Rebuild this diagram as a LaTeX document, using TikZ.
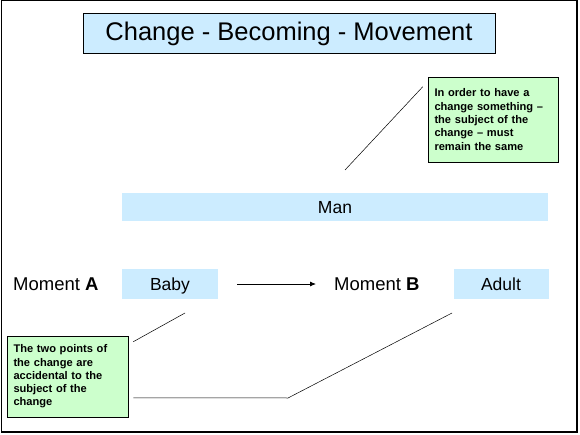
\documentclass[tikz,border=0pt]{standalone}
\usepackage{fontspec}
\setmainfont{Liberation Sans}
\usepackage{xcolor}
\usetikzlibrary{arrows.meta,positioning,calc}
\definecolor{sky}{HTML}{CCECFF}
\definecolor{mint}{HTML}{CCFFCC}

\begin{document}
\begin{tikzpicture}[x=1pt,y=-1pt,
  bar/.style={fill=sky,inner sep=0pt,text height=13pt,text depth=0.4pt,
              font=\fontsize{17.5}{20}\selectfont},
  label/.style={inner sep=0pt,anchor=west,font=\fontsize{18.5}{21}\selectfont},
  note/.style={draw=black,line width=0.5pt,fill=mint,inner xsep=6.5pt,align=left,
              font=\fontsize{11.1}{13.3}\selectfont\bfseries},
  pointer/.style={draw=black,line width=0.5pt},
  arrow/.style={-{Latex[length=6pt,width=5pt]},line width=0.8pt,draw=black}]
  \useasboundingbox (0,0) rectangle (580,435);
  % frame
  \draw[line width=1pt] (1,1) rectangle (577,432);
  \draw[line width=2pt] (577,0.5) -- (577,432) -- (0.5,432);
  \node[draw=black,line width=1pt,fill=sky,minimum width=412pt,minimum height=40pt,
        inner sep=0pt,font=\fontsize{25.5}{30}\selectfont] (title) at (289,34)
        {Change - Becoming - Movement};
  \node[bar,minimum width=426pt,minimum height=28pt] (man) at (335,207) {Man};
  \node[label] (momentA) at (13,284) {Moment \textbf{A}};
  \node[bar,minimum width=96pt,minimum height=29pt] (baby) at (170,284) {Baby};
  \node[label] (momentB) at (334,284) {Moment \textbf{B}};
  \node[bar,minimum width=95pt,minimum height=29pt] (adult) at (501,284) {Adult};
  \node[note,text width=117pt,minimum height=85pt] (same) at (493,119.5)
        {In order to have a\\change something --\\the subject of the\\change -- must\\remain the same};
  \node[note,text width=108pt,minimum height=81pt] (accident) at (67.5,376.5)
        {The two points of\\the change are\\accidental to the\\subject of the\\change};
  % pointers
  \coordinate (manTip) at (345,170);
  \coordinate (babyTip) at (185,313);
  \coordinate (adultTip) at (452,313);
  \coordinate (bend) at (288,398);
  \draw[pointer] ($(same.north west)+(-5,10)$) -- (manTip);
  \draw[pointer] ($(accident.north east)+(5,6)$) -- (babyTip);
  \draw[pointer] ($(accident.north east)+(5,62)$) -- (bend) -- (adultTip);
  \draw[arrow,shorten <=19pt,shorten >=18pt] (baby) -- (momentB);
\end{tikzpicture}
\end{document}
